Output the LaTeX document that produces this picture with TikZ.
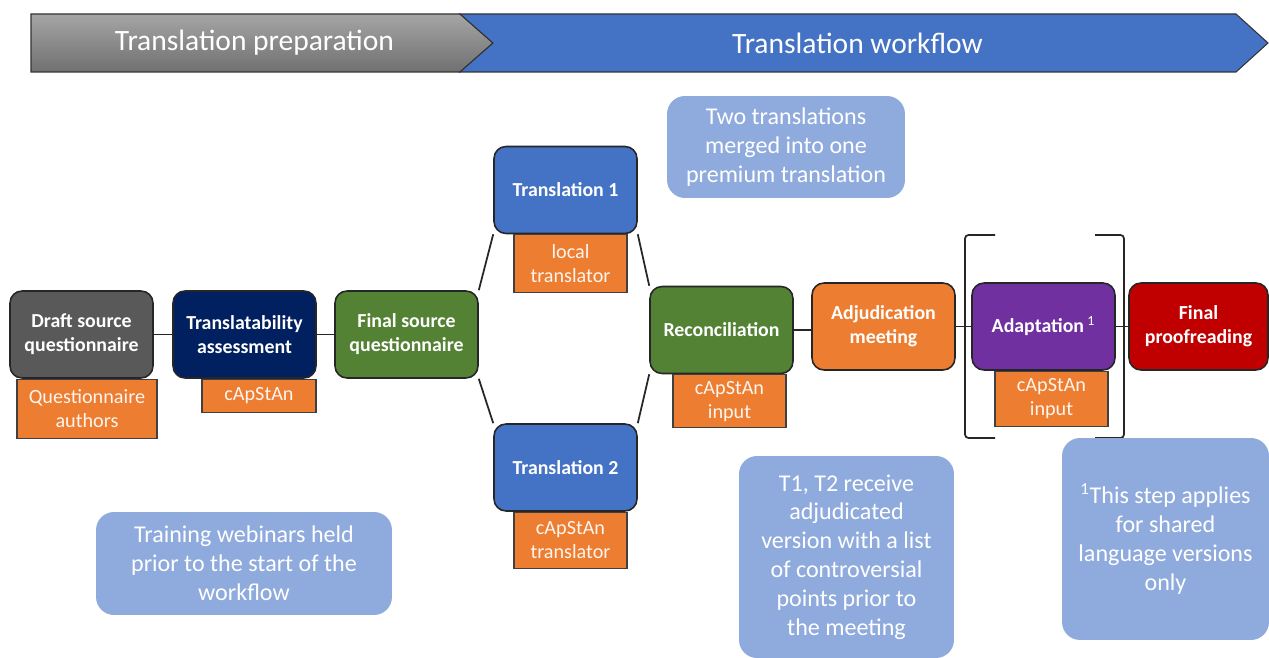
\documentclass[tikz,border=0pt]{standalone}
\usepackage{fontspec}
\setmainfont{Carlito}
\usetikzlibrary{positioning,backgrounds}
\definecolor{slate}{RGB}{89,89,89}
\definecolor{navy}{RGB}{0,32,96}
\definecolor{leaf}{RGB}{84,130,53}
\definecolor{royal}{RGB}{68,114,196}
\definecolor{tangerine}{RGB}{237,125,49}
\definecolor{plum}{RGB}{112,48,160}
\definecolor{crimson}{RGB}{192,0,0}
\definecolor{pale}{RGB}{143,170,220}
\tikzset{%
  every stage/.style={
    rectangle,
    rounded corners=0.24cm,
    draw=black!85,
    line width=0.9pt,
    minimum width=2.86cm,
    minimum height=1.74cm,
    align=center,
    text=white,
    font=\fontsize{11.3}{13.6}\selectfont\bfseries
  },
  role/.style={
    rectangle,
    draw=black!75,
    line width=0.6pt,
    fill=tangerine,
    text=white!92!tangerine,
    align=center,
    inner sep=0pt,
    font=\fontsize{11.5}{13.6}\selectfont
  },
  note/.style={
    rectangle,
    rounded corners=0.36cm,
    fill=pale,
    text=white,
    align=center,
    font=\fontsize{13.7}{16.4}\selectfont
  },
  banner/.style={
    text=white,
    font=\fontsize{16.8}{20}\selectfont
  },
  link/.style={draw=black!85, line width=1pt},
}

\begin{document}
\begin{tikzpicture}[x=0.02cm, y=-0.02cm]
\useasboundingbox (0,0) rectangle (1269,658);
% phase banner
\draw[black!80, line width=0.6pt, top color={rgb,255:red,165;green,165;blue,165}, bottom color={rgb,255:red,112;green,112;blue,112}]
    (31,14) -- (460,14) -- (493,43) -- (460,72) -- (31,72) -- cycle;
\draw[black!80, line width=0.6pt, fill=royal]
    (460,14) -- (1236,14) -- (1268,43) -- (1236,72) -- (460,72) -- (493,43) -- cycle;
\node[banner] (prep) at (254.5,43) {Translation preparation};
\node[banner] (flow) at (857.5,43) {Translation workflow};

% stages
\node[every stage, fill=slate] (draft) at (81.5,334.5) {Draft source\\questionnaire};
\node[every stage, fill=navy] (assess) at (244.5,334.5) {Translatability\\assessment};
\node[every stage, fill=leaf] (final) at (406.5,334.5) {Final source\\questionnaire};
\node[every stage, fill=royal] (trone) at (565.5,190) {Translation 1};
\node[every stage, fill=royal] (trtwo) at (565.5,467.5) {Translation 2};
\node[every stage, fill=leaf] (recon) at (721.5,330) {Reconciliation};
\node[every stage, fill=tangerine] (adjud) at (883.5,326.5) {Adjudication\\meeting};
\node[every stage, fill=plum] (adapt) at (1043.5,326.5) {Adaptation\,\textsuperscript{\mdseries 1}};
\node[every stage, fill=crimson, minimum width=2.78cm] (proof) at (1198.5,326.5) {Final\\proofreading};

% who does it
\node[role, minimum width=2.8cm, minimum height=1.18cm, below=0pt of draft, xshift=0.11cm] (authors) {Questionnaire\\authors};
\node[role, minimum width=2.28cm, minimum height=0.66cm, below=0pt of assess, xshift=0.29cm] (capone) {cApStAn};
\node[role, minimum width=2.26cm, minimum height=1.16cm, below=0pt of trone, xshift=0.1cm] (local) {local\\translator};
\node[role, minimum width=2.26cm, minimum height=1.12cm, below=0pt of trtwo, xshift=0.1cm] (captr) {cApStAn\\translator};
\node[role, minimum width=2.26cm, minimum height=1.06cm, below=0pt of recon, xshift=0.16cm] (recin) {cApStAn\\input};
\node[role, minimum width=2.26cm, minimum height=1.1cm, below=0pt of adapt, xshift=0.16cm] (adin) {cApStAn\\input};

% brackets round adaptation
\draw[link, rounded corners=2pt] (995,235) -- (965,235) -- (965,438) -- (995,438);
\draw[link, rounded corners=2pt] (1095,235) -- (1124,235) -- (1124,438) -- (1095,438);

% notes
\node[note, minimum width=4.76cm, minimum height=2.04cm] (merged) at (786,147) {Two translations\\merged into one\\premium translation};
\node[note, minimum width=5.92cm, minimum height=2.06cm] (webinar) at (244,563.5) {Training webinars held\\prior to the start of the\\workflow};
\node[note, minimum width=4.3cm, minimum height=4.04cm] (review) at (846.5,557) {T1, T2 receive\\adjudicated\\version with a list\\of controversial\\points prior to\\the meeting};
\node[note, minimum width=4.14cm, minimum height=4.04cm] (shared) at (1165.5,539) {\textsuperscript{1}This step applies\\for shared\\language versions\\only};

% connectors
\begin{scope}[on background layer]
\draw[link] (draft.east) -- (assess.west);
\draw[link] (assess.east) -- (final.west);
\draw[link] (final.north east) -- (trone.south west);
\draw[link] (final.south east) -- (trtwo.north west);
\draw[link] (trone.south east) -- (recon.north west);
\draw[link] (trtwo.north east) -- (recon.south west);
\draw[link] (recon.east) -- (recon.east -| adjud.west);
\draw[link] (adjud.east) -- (adapt.west);
\draw[link] (adapt.east) -- (proof.west);
\end{scope}
\end{tikzpicture}
\end{document}
